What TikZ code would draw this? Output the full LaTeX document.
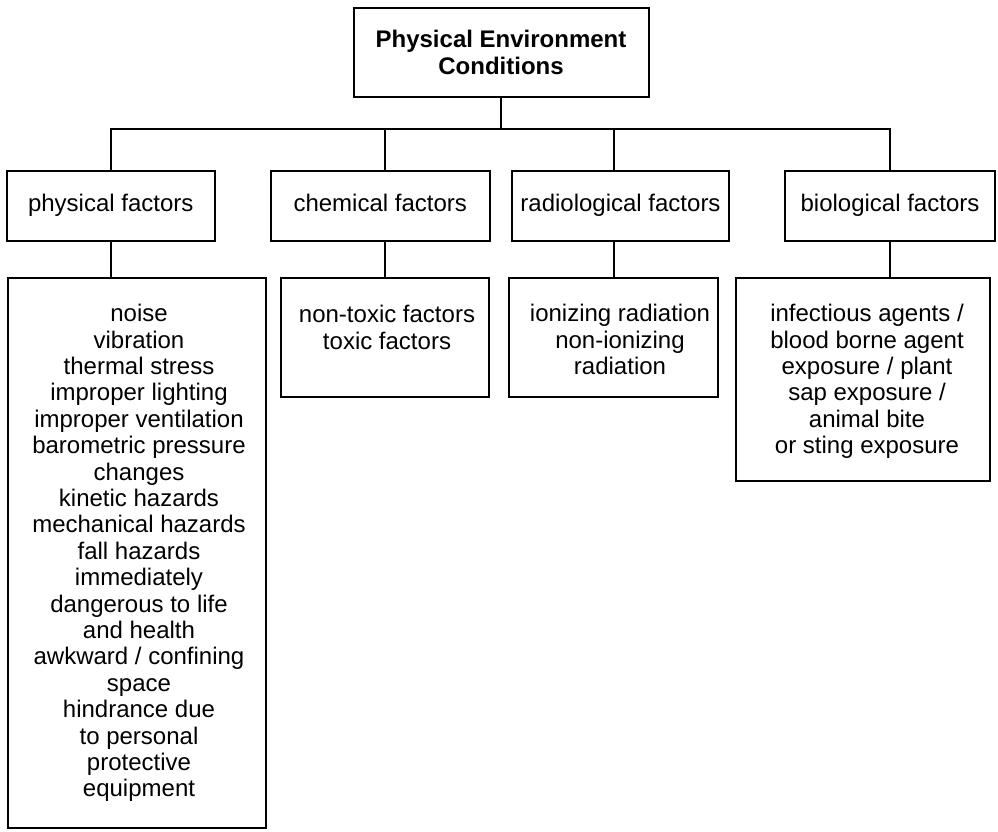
\documentclass[tikz,border=0pt]{standalone}
\usepackage{fontspec}
\setmainfont{Liberation Sans}
\begin{document}
\begin{tikzpicture}[x=1pt,y=-1pt,
  box/.style={draw=black, line width=2pt, inner sep=0pt, fill=white},
  txt/.style={font=\fontsize{24}{26.4}\selectfont, align=center, inner sep=0pt},
  head/.style={box, txt, minimum height=70pt, execute at begin node=\strut},
  list/.style={txt, anchor=north},
  link/.style={draw=black, line width=2pt}]
\useasboundingbox (0,0) rectangle (998,831);
\fill[white] (0,0) rectangle (998,831);

% root
\node[box, txt, font=\fontsize{24}{27}\selectfont\bfseries,
      minimum width=295pt, minimum height=89pt] (root) at (501,52)
  {Physical Environment\\Conditions};

% second level
\node[head, minimum width=208.5pt] (phys) at (110.75,206) {physical factors};
\node[head, minimum width=219.5pt] (chem) at (380.25,206) {chemical factors};
\node[head, minimum width=217pt] (radio) at (620.5,206) {radiological factors};
\node[head, minimum width=210pt] (bio) at (890,206) {biological factors};

% third level frames
\node[box, minimum width=258pt, minimum height=550pt] (physL) at (137,553) {};
\node[box, minimum width=208pt, minimum height=119pt] (chemL) at (385,337.5) {};
\node[box, minimum width=209pt, minimum height=119pt] (radioL) at (613.5,337.5) {};
\node[box, minimum width=254pt, minimum height=203pt] (bioL) at (863,379.5) {};

% third level texts, hung from the top of each frame
\node[list] (physT) at (139,304) {noise\\vibration\\thermal stress\\improper lighting\\improper ventilation\\barometric pressure\\changes\\kinetic hazards\\mechanical hazards\\fall hazards\\immediately\\dangerous to life\\and health\\awkward / confining\\space\\hindrance due\\to personal\\protective\\equipment};
\node[list] (chemT) at (387,305) {non-toxic factors\\toxic factors};
\node[list] (radioT) at (620,304) {ionizing radiation\\non-ionizing\\radiation};
\node[list] (bioT) at (867,304) {infectious agents /\\blood borne agent\\exposure / plant\\sap exposure /\\animal bite\\or sting exposure};

% connectors
\coordinate (bar) at (501,129);
\draw[link] (root.south) -- (bar);
\draw[link] (phys.north) |- (bar);
\draw[link] (bio.north) |- (bar);
\draw[link] (chemL.north |- chem.north) -- (chemL.north |- bar);
\draw[link] (radioL.north |- radio.north) -- (radioL.north |- bar);

\draw[link] (phys.south) -- (phys.south |- physL.north);
\draw[link] (chemL.north |- chem.south) -- (chemL.north);
\draw[link] (radioL.north |- radio.south) -- (radioL.north);
\draw[link] (bio.south) -- (bio.south |- bioL.north);
\end{tikzpicture}
\end{document}
